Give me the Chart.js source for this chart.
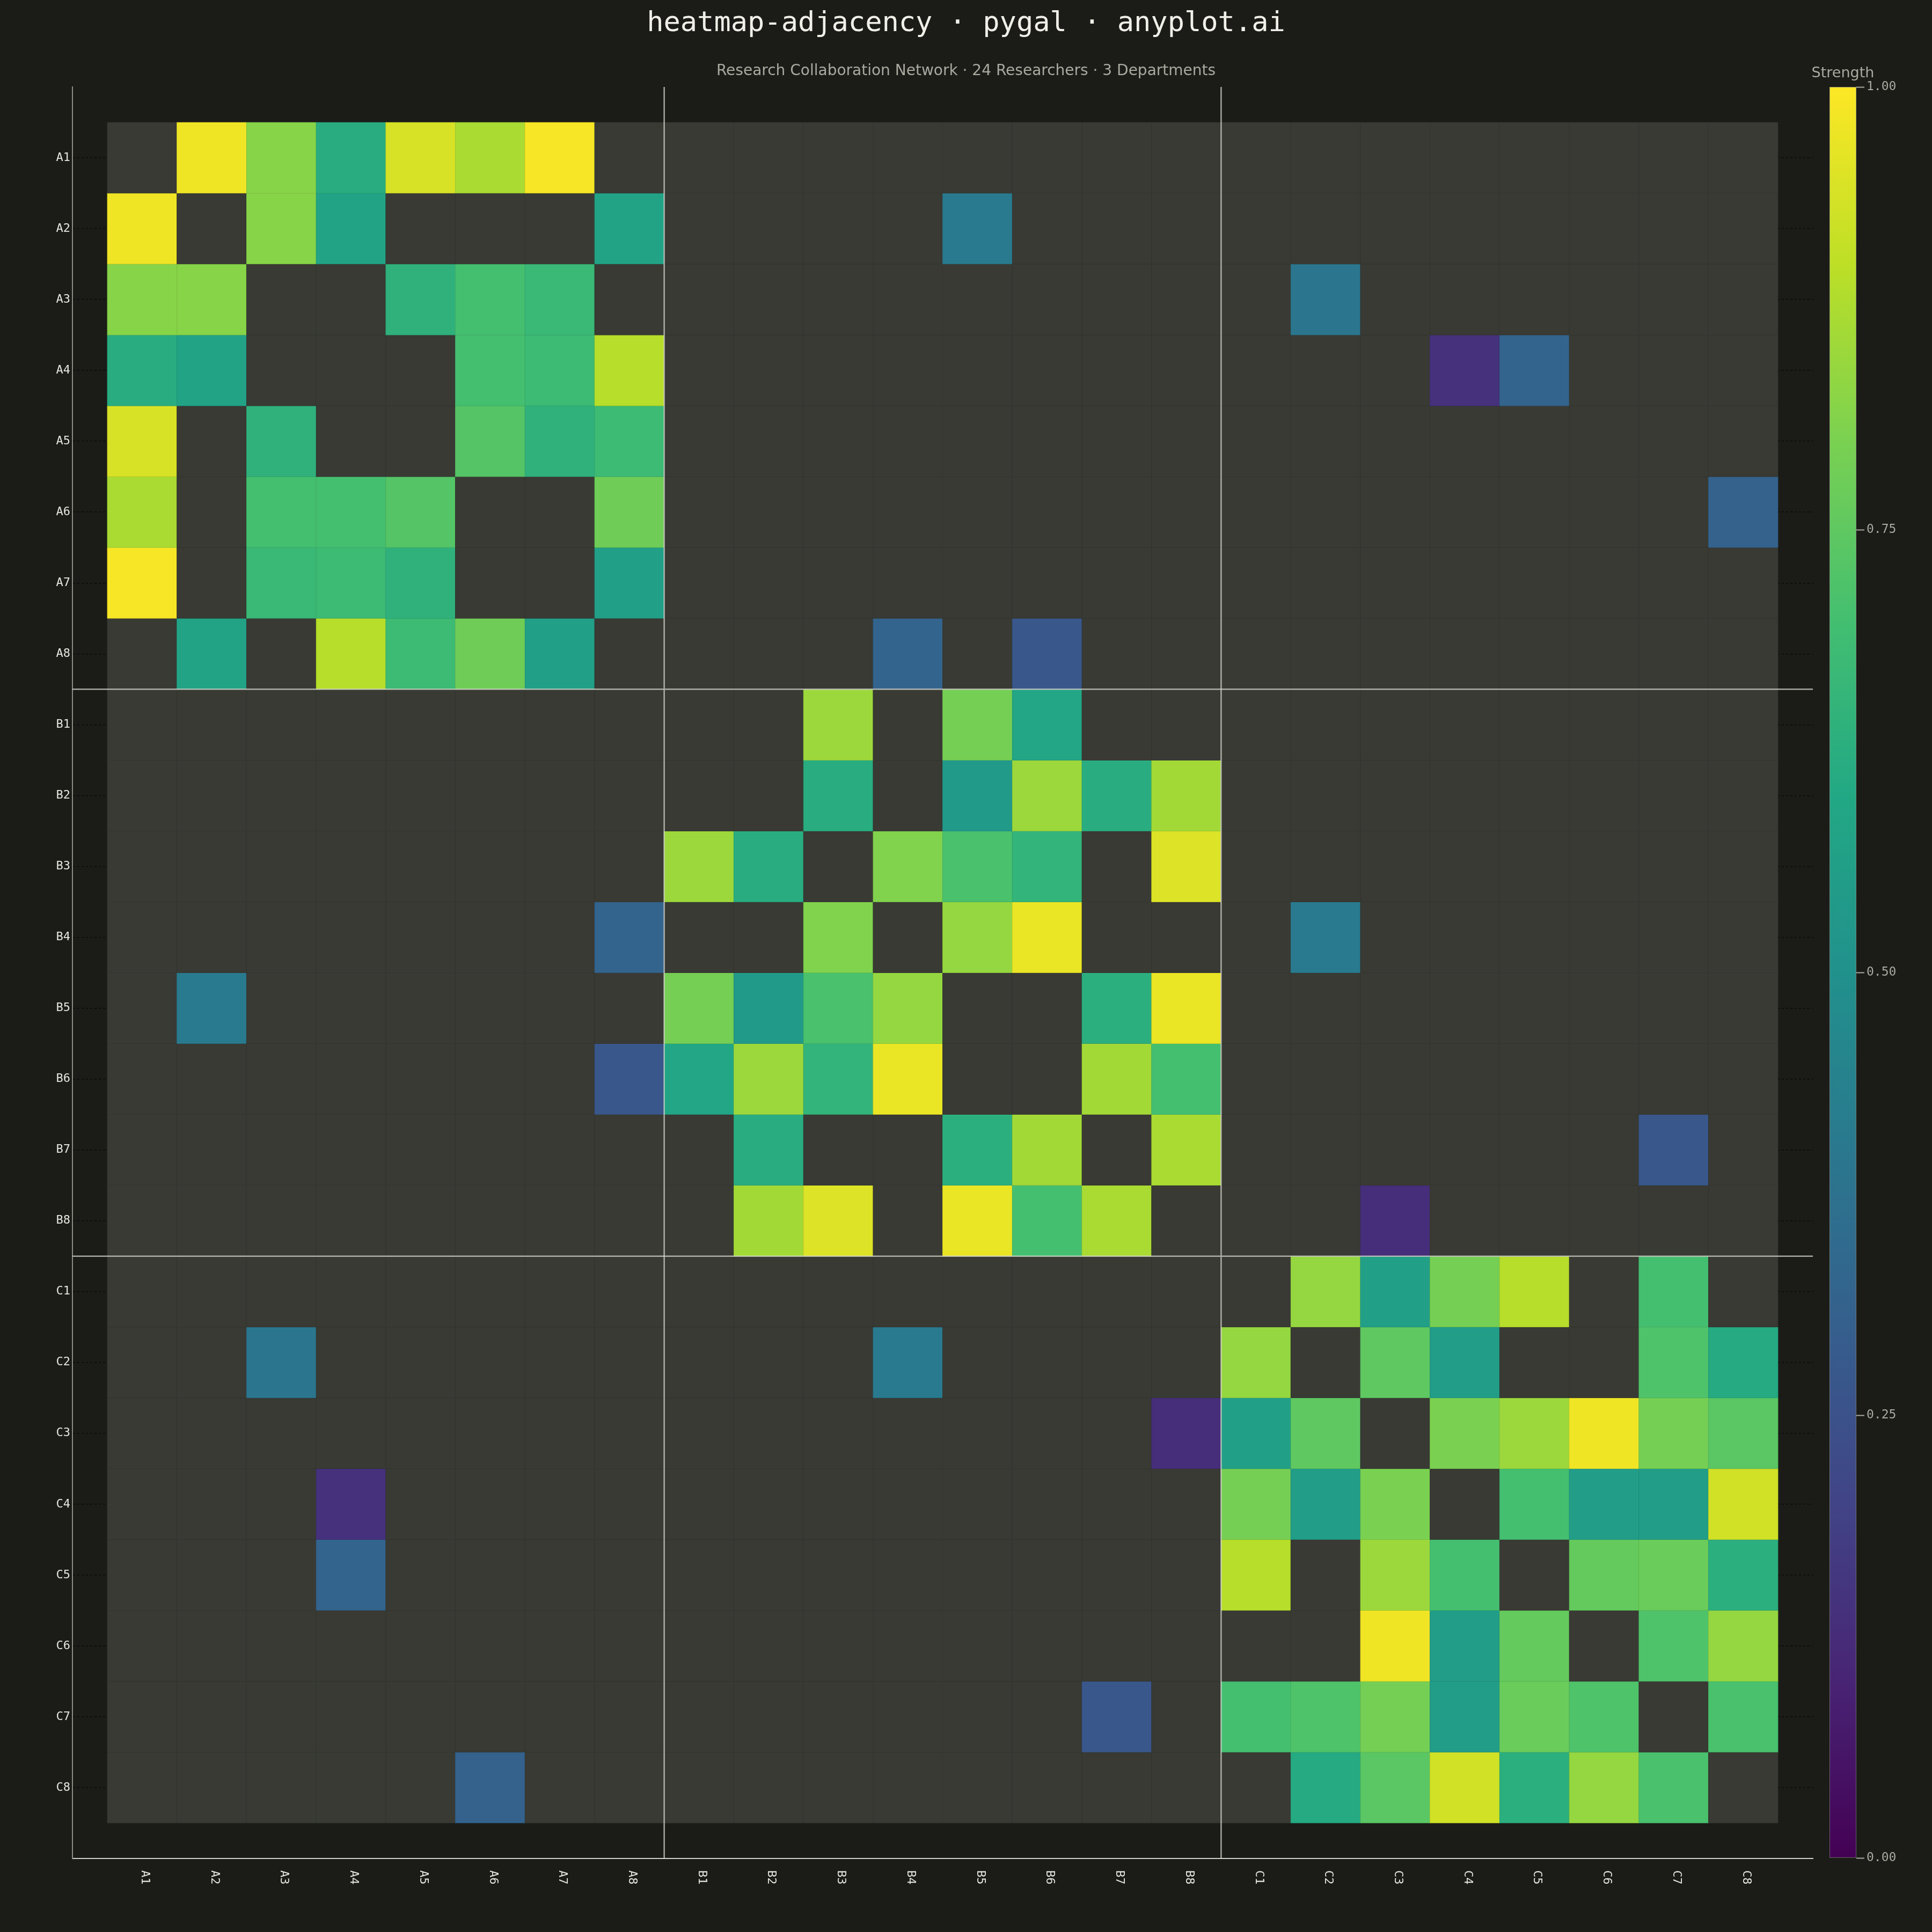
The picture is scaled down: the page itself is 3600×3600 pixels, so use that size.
<!DOCTYPE html>
<html>
<head>
<meta charset="utf-8">
<title>heatmap-adjacency</title>
<script src="https://cdn.jsdelivr.net/npm/chart.js@4.4.1/dist/chart.umd.min.js"></script>
<style>
  html, body { margin: 0; padding: 0; background: #1b1c18; }
  #wrap { position: relative; width: 3600px; height: 3600px; }
  #heatmap { position: absolute; left: 0; top: 0; }
  #colorbar { position: absolute; left: 3300px; top: 0; }
</style>
</head>
<body>
<div id="wrap">
  <canvas id="heatmap" width="3600" height="3600"></canvas>
  <canvas id="colorbar" width="300" height="3600"></canvas>
</div>
<script>
// Researchers, grouped by department (A, B, C)
const researchers = [
  "A1", "A2", "A3", "A4", "A5", "A6", "A7", "A8",
  "B1", "B2", "B3", "B4", "B5", "B6", "B7", "B8",
  "C1", "C2", "C3", "C4", "C5", "C6", "C7", "C8",
];
const departmentSizes = [8, 8, 8];

// Collaboration edges (undirected)
const edgeFrom = [
  "A1", "A1", "A1", "A1", "A1", "A1", "A2", "A2", "A2", "A3",
  "A3", "A3", "A4", "A4", "A4", "A5", "A5", "A5", "A6", "A7",
  "B1", "B1", "B1", "B2", "B2", "B2", "B2", "B2", "B3", "B3",
  "B3", "B3", "B4", "B4", "B5", "B5", "B6", "B6", "B7",
  "C1", "C1", "C1", "C1", "C1", "C2", "C2", "C2", "C2", "C3",
  "C3", "C3", "C3", "C3", "C4", "C4", "C4", "C4", "C5", "C5",
  "C5", "C6", "C6", "C7",
  "A2", "A3", "A4", "A4", "A6", "A8", "A8", "B4", "B7", "B8",
];
const edgeTo = [
  "A2", "A3", "A4", "A5", "A6", "A7", "A3", "A4", "A8", "A5",
  "A6", "A7", "A6", "A7", "A8", "A6", "A7", "A8", "A8", "A8",
  "B3", "B5", "B6", "B3", "B5", "B6", "B7", "B8", "B4", "B5",
  "B6", "B8", "B5", "B6", "B7", "B8", "B7", "B8", "B8",
  "C2", "C3", "C4", "C5", "C7", "C3", "C4", "C7", "C8", "C4",
  "C5", "C6", "C7", "C8", "C5", "C6", "C7", "C8", "C6", "C7",
  "C8", "C7", "C8", "C8",
  "B5", "C2", "C4", "C5", "C8", "B4", "B6", "C2", "C7", "C3",
];
const edgeStrength = [
  0.98, 0.82, 0.62, 0.94, 0.87, 0.99, 0.82, 0.58, 0.58, 0.64,
  0.70, 0.67, 0.70, 0.68, 0.89, 0.73, 0.64, 0.68, 0.78, 0.56,
  0.85, 0.79, 0.59, 0.62, 0.54, 0.85, 0.62, 0.86, 0.81, 0.71,
  0.65, 0.95, 0.84, 0.97, 0.63, 0.97, 0.86, 0.70, 0.87,
  0.84, 0.56, 0.79, 0.89, 0.70, 0.75, 0.55, 0.72, 0.61, 0.80,
  0.85, 0.98, 0.79, 0.74, 0.70, 0.55, 0.55, 0.93, 0.76, 0.77,
  0.63, 0.72, 0.84, 0.71,
  0.41, 0.39, 0.14, 0.32, 0.31, 0.32, 0.27, 0.41, 0.27, 0.13,
];

const colorbarTicks = [0, 0.25, 0.5, 0.75, 1];

const MONO = '"DejaVu Sans Mono", monospace';
const SANS = '"DejaVu Sans", sans-serif';
const EMPTY = "#393a34";
const VIRIDIS = [
  "#440154", "#482475", "#414487", "#355f8d", "#2a788e", "#21918c",
  "#22a884", "#44bf70", "#7ad151", "#bddf26", "#fde725",
];

function hexToRgb(h) {
  return [1, 3, 5].map((i) => parseInt(h.slice(i, i + 2), 16));
}

function viridisRgb(t) {
  const pos = Math.min(Math.max(t, 0), 1) * (VIRIDIS.length - 1);
  const i = Math.min(Math.floor(pos), VIRIDIS.length - 2);
  const f = pos - i;
  const a = hexToRgb(VIRIDIS[i]);
  const b = hexToRgb(VIRIDIS[i + 1]);
  return a.map((v, k) => v + (b[k] - v) * f);
}

const rgb = (c, k = 1) => `rgb(${c.map((v) => Math.round(v * k)).join(", ")})`;
const cellRgb = (v) => (v > 0 ? viridisRgb(v) : hexToRgb(EMPTY));

// symmetric adjacency matrix
const strength = researchers.map(() => researchers.map(() => 0));
edgeFrom.forEach((from, k) => {
  const i = researchers.indexOf(from);
  const j = researchers.indexOf(edgeTo[k]);
  strength[i][j] = edgeStrength[k];
  strength[j][i] = edgeStrength[k];
});

// one dataset per row, one floating bar per cell
const rows = researchers.map((name, r) => ({
  label: name,
  data: researchers.map((_, c) => ({ x: c, y: [r - 0.5, r + 0.5] })),
  backgroundColor: strength[r].map((v) => rgb(cellRgb(v))),
  borderColor: strength[r].map((v) => rgb(cellRgb(v), 0.9)),
  borderWidth: 1,
}));

const centerTicks = (scale) => {
  scale.ticks = researchers.map((_, i) => ({ value: i }));
};

const heatmapDecor = {
  id: "heatmapDecor",
  afterDatasetsDraw(chart) {
    const { ctx, chartArea: a, scales: { x, y } } = chart;
    ctx.save();
    ctx.strokeStyle = "rgba(215, 215, 205, 0.75)";
    ctx.lineWidth = 2.5;
    let edge = -0.5;
    departmentSizes.slice(0, -1).forEach((size) => {
      edge += size;
      const px = x.getPixelForValue(edge);
      const py = y.getPixelForValue(edge);
      ctx.beginPath();
      ctx.moveTo(px, a.top);
      ctx.lineTo(px, a.bottom);
      ctx.moveTo(a.left, py);
      ctx.lineTo(a.right, py);
      ctx.stroke();
    });
    ctx.restore();
  },
  afterDraw(chart) {
    // x labels turned clockwise, reading top to bottom
    const { ctx, chartArea: a, scales: { x } } = chart;
    ctx.save();
    ctx.font = `22px ${MONO}`;
    ctx.fillStyle = "#e6e6de";
    ctx.textAlign = "left";
    ctx.textBaseline = "middle";
    researchers.forEach((name, i) => {
      ctx.save();
      ctx.translate(x.getPixelForValue(i) + 5, a.bottom + 22);
      ctx.rotate(Math.PI / 2);
      ctx.fillText(name, 0, 0);
      ctx.restore();
    });
    ctx.restore();
  },
};

new Chart(document.getElementById("heatmap"), {
  type: "bar",
  data: { datasets: rows },
  plugins: [heatmapDecor],
  options: {
    responsive: false,
    devicePixelRatio: 1,
    animation: false,
    events: [],
    datasets: {
      bar: {
        grouped: false,
        categoryPercentage: 1,
        barPercentage: 1,
        borderSkipped: false,
        inflateAmount: 0.5,
      },
    },
    layout: { padding: 0 },
    plugins: {
      legend: { display: false },
      tooltip: { enabled: false },
      title: {
        display: true,
        text: "heatmap-adjacency · pygal · anyplot.ai",
        color: "#f0efe8",
        font: { family: MONO, size: 52, weight: "normal" },
        padding: { top: 13, bottom: 20 },
      },
      subtitle: {
        display: true,
        text: "Research Collaboration Network · 24 Researchers · 3 Departments",
        color: "#a9a99f",
        font: { family: SANS, size: 28 },
        padding: { top: 21, bottom: 12 },
      },
    },
    scales: {
      x: {
        type: "linear",
        offset: false,
        min: -1,
        max: researchers.length,
        afterBuildTicks: centerTicks,
        afterFit: (s) => { s.height = 137; },
        ticks: { display: false },
        grid: { display: false, offset: false },
        border: { color: "#d0d0c8", width: 2 },
      },
      y: {
        type: "linear",
        offset: false,
        min: -1,
        max: researchers.length,
        reverse: true,
        afterBuildTicks: centerTicks,
        afterFit: (s) => { s.width = 135; },
        ticks: {
          autoSkip: false,
          callback: (v) => researchers[v],
          color: "#e6e6de",
          font: { family: MONO, size: 22 },
          padding: 4,
        },
        grid: { color: "rgba(0, 0, 0, 0.65)", lineWidth: 1.5, drawTicks: false },
        border: { color: "#8c8c85", width: 2, dash: [4, 4] },
      },
      y2: {
        type: "linear",
        position: "right",
        afterFit: (s) => { s.width = 222; },
        ticks: { display: false },
        grid: { display: false },
        border: { display: false },
      },
    },
  },
});

// colour scale bar
const colorbarLabel = {
  id: "colorbarLabel",
  afterDraw(chart) {
    const { ctx, chartArea: a } = chart;
    ctx.save();
    ctx.font = `27px ${SANS}`;
    ctx.fillStyle = "#a9a99f";
    ctx.textAlign = "center";
    ctx.textBaseline = "middle";
    ctx.fillText("Strength", (a.left + a.right) / 2, a.top - 25);
    ctx.restore();
  },
};

new Chart(document.getElementById("colorbar"), {
  type: "bar",
  data: {
    labels: ["Strength"],
    datasets: [{
      data: [[0, 1]],
      backgroundColor: (c) => {
        const a = c.chart.chartArea;
        if (!a) return EMPTY;
        const g = c.chart.ctx.createLinearGradient(0, a.bottom, 0, a.top);
        VIRIDIS.forEach((col, i) => g.addColorStop(i / (VIRIDIS.length - 1), col));
        return g;
      },
      borderColor: "rgba(160, 160, 150, 0.8)",
      borderWidth: 1,
      borderSkipped: false,
      categoryPercentage: 1,
      barPercentage: 1,
    }],
  },
  plugins: [colorbarLabel],
  options: {
    responsive: false,
    devicePixelRatio: 1,
    animation: false,
    events: [],
    layout: { padding: { left: 109, bottom: 138 } },
    plugins: { legend: { display: false }, tooltip: { enabled: false } },
    scales: {
      x: {
        position: "top",
        afterFit: (s) => { s.height = 162; },
        ticks: { display: false },
        grid: { display: false },
        border: { display: false },
      },
      y: {
        position: "right",
        min: 0,
        max: 1,
        afterBuildTicks: (s) => { s.ticks = colorbarTicks.map((v) => ({ value: v })); },
        afterFit: (s) => { s.width = 141; },
        ticks: {
          callback: (v) => v.toFixed(2),
          color: "#a9a99f",
          font: { family: MONO, size: 23 },
          padding: 4,
        },
        grid: { drawOnChartArea: false, tickLength: 15, tickColor: "#a9a99f", tickWidth: 2 },
        border: { display: false },
      },
    },
  },
});
</script>
</body>
</html>
